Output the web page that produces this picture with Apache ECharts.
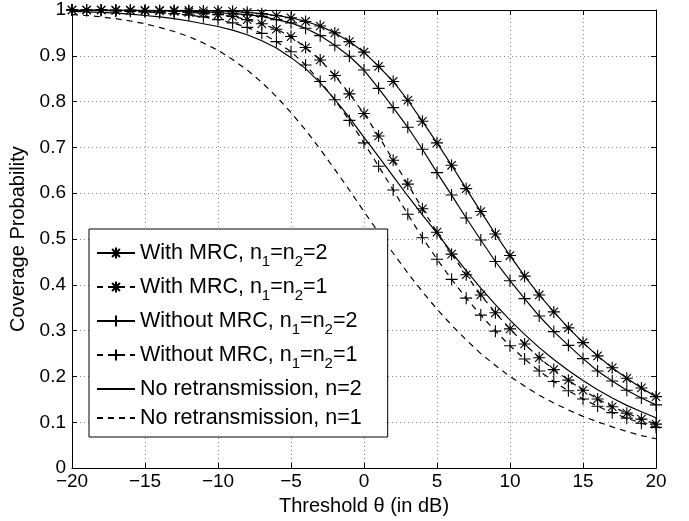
<!DOCTYPE html>
<html>
<head>
<meta charset="utf-8">
<script src="https://cdn.jsdelivr.net/npm/echarts@6/dist/echarts.min.js"></script>
<style>
  html, body { margin: 0; padding: 0; background: #fff; }
  #main { width: 689px; height: 521px; }
</style>
</head>
<body>
<div id="main"></div>
<script>
var thresholdDb = [-20, -19, -18, -17, -16, -15, -14, -13, -12, -11,
  -10, -9, -8, -7, -6, -5, -4, -3, -2, -1,
  0, 1, 2, 3, 4, 5, 6, 7, 8, 9, 10,
  11, 12, 13, 14, 15, 16, 17, 18, 19, 20];

// With MRC, n1=n2=2
var withMrc2 = [1.000, 1.000, 1.000, 1.000, 1.000, 0.999, 0.999, 0.999, 0.999, 0.998,
  0.998, 0.997, 0.995, 0.992, 0.988, 0.983, 0.975, 0.965, 0.950, 0.931,
  0.908, 0.877, 0.844, 0.803, 0.757, 0.710, 0.661, 0.610, 0.560, 0.511, 0.464,
  0.419, 0.378, 0.341, 0.306, 0.274, 0.245, 0.219, 0.196, 0.175, 0.156];

// With MRC, n1=n2=1
var withMrc1 = [1.000, 1.000, 1.000, 0.999, 0.999, 0.998, 0.998, 0.997, 0.995, 0.993,
  0.990, 0.986, 0.979, 0.970, 0.958, 0.942, 0.918, 0.891, 0.857, 0.817,
  0.774, 0.725, 0.672, 0.620, 0.566, 0.515, 0.467, 0.422, 0.378, 0.339, 0.304,
  0.271, 0.241, 0.215, 0.192, 0.170, 0.151, 0.134, 0.120, 0.107, 0.096];

// Without MRC, n1=n2=2
var withoutMrc2 = [1.000, 1.000, 1.000, 0.999, 0.999, 0.999, 0.998, 0.998, 0.997, 0.996,
  0.994, 0.992, 0.990, 0.986, 0.979, 0.972, 0.960, 0.944, 0.923, 0.899,
  0.869, 0.829, 0.787, 0.744, 0.696, 0.645, 0.596, 0.546, 0.498, 0.451, 0.409,
  0.370, 0.332, 0.298, 0.268, 0.239, 0.212, 0.190, 0.170, 0.153, 0.138];

// Without MRC, n1=n2=1
var withoutMrc1 = [1.000, 0.999, 0.999, 0.998, 0.997, 0.996, 0.994, 0.992, 0.989, 0.985,
  0.979, 0.972, 0.962, 0.949, 0.931, 0.909, 0.880, 0.844, 0.804, 0.759,
  0.710, 0.659, 0.607, 0.554, 0.503, 0.456, 0.412, 0.371, 0.334, 0.299, 0.267,
  0.238, 0.212, 0.189, 0.169, 0.151, 0.135, 0.121, 0.109, 0.098, 0.089];

// No retransmission, n=2
var noRetx2 = [0.997, 0.996, 0.995, 0.993, 0.991, 0.988, 0.985, 0.981, 0.976, 0.970,
  0.964, 0.956, 0.946, 0.933, 0.917, 0.896, 0.872, 0.841, 0.805, 0.765,
  0.722, 0.680, 0.637, 0.594, 0.553, 0.513, 0.471, 0.431, 0.393, 0.357, 0.323,
  0.292, 0.263, 0.237, 0.213, 0.191, 0.171, 0.153, 0.137, 0.123, 0.110];

// No retransmission, n=1
var noRetx1 = [0.990, 0.988, 0.985, 0.981, 0.976, 0.970, 0.962, 0.953, 0.942, 0.928,
  0.912, 0.892, 0.869, 0.842, 0.811, 0.776, 0.738, 0.696, 0.652, 0.607,
  0.560, 0.514, 0.469, 0.426, 0.385, 0.347, 0.312, 0.280, 0.250, 0.224, 0.200,
  0.179, 0.159, 0.142, 0.127, 0.113, 0.101, 0.090, 0.080, 0.071, 0.064];

var legendNames = ['With MRC, n1=n2=2', 'With MRC, n1=n2=1', 'Without MRC, n1=n2=2',
  'Without MRC, n1=n2=1', 'No retransmission, n=2', 'No retransmission, n=1'];

var FONT = 'Liberation Sans, Helvetica, Arial, sans-serif';
var STAR = 'path://M6,0L6,12M0,6L12,6M1.8,1.8L10.2,10.2M10.2,1.8L1.8,10.2';
var PLUS = 'path://M6,0L6,12M0,6L12,6';

function pairs(ys) {
  return thresholdDb.map(function (x, i) { return [x, ys[i]]; });
}

function makeSeries(name, ys, symbol, dashed) {
  return {
    name: name,
    type: 'line',
    data: pairs(ys),
    symbol: symbol || 'none',
    symbolSize: 12,
    showSymbol: !!symbol,
    color: '#000',
    lineStyle: { color: '#000', width: 1.2, type: dashed ? [6, 5] : 'solid' },
    itemStyle: { color: '#000', borderColor: '#000', borderWidth: 1.1 },
    emphasis: { disabled: true },
    animation: false
  };
}

var chart = echarts.init(document.getElementById('main'));

var gridLine = { show: true, lineStyle: { color: '#888', type: [1, 3], width: 1 } };
var tick = { show: true, inside: true, length: 5, lineStyle: { color: '#000' } };

var option = {
  animation: false,
  backgroundColor: '#fff',
  grid: { left: 72, right: 33, top: 10, bottom: 51 },
  xAxis: [{
    type: 'value', min: -20, max: 20, interval: 5,
    name: 'Threshold θ (in dB)', nameLocation: 'middle', nameGap: 25,
    nameTextStyle: { fontFamily: FONT, fontSize: 20, color: '#000' },
    axisLine: { show: true, onZero: false, lineStyle: { color: '#000', width: 1 } },
    axisTick: tick,
    axisLabel: {
      fontFamily: FONT, fontSize: 19, color: '#000', margin: 4,
      formatter: function (v) { return v < 0 ? '\u2212' + Math.abs(v) : String(v); }
    },
    splitLine: gridLine
  }, {
    type: 'value', min: -20, max: 20, interval: 5, position: 'top',
    axisLine: { show: true, onZero: false, lineStyle: { color: '#000', width: 1 } },
    axisTick: tick, axisLabel: { show: false }, splitLine: { show: false }
  }],
  yAxis: [{
    type: 'value', min: 0, max: 1, interval: 0.1,
    name: 'Coverage Probability', nameLocation: 'middle', nameGap: 42,
    nameTextStyle: { fontFamily: FONT, fontSize: 20, color: '#000' },
    axisLine: { show: true, onZero: false, lineStyle: { color: '#000', width: 1 } },
    axisTick: tick,
    axisLabel: { fontFamily: FONT, fontSize: 19, color: '#000', margin: 6 },
    splitLine: gridLine
  }, {
    type: 'value', min: 0, max: 1, interval: 0.1, position: 'right',
    axisLine: { show: true, onZero: false, lineStyle: { color: '#000', width: 1 } },
    axisTick: tick, axisLabel: { show: false }, splitLine: { show: false }
  }],
  legend: {
    orient: 'vertical', left: 89, top: 229,
    backgroundColor: '#fff', borderColor: '#000', borderWidth: 1, borderRadius: 0,
    padding: [13, 26, 8, 7], itemGap: 7, itemWidth: 38, itemHeight: 14,
    selectedMode: false,
    textStyle: {
      fontFamily: FONT, fontSize: 21.5, color: '#000',
      rich: { s: { fontFamily: FONT, fontSize: 15, color: '#000', padding: [17, 0, 0, 0] } }
    },
    formatter: function (name) {
      return name.replace('n1', 'n{s|1}').replace('n2=', 'n{s|2}=');
    },
    data: legendNames.map(function (n, i) {
      return i < 4 ? { name: n } : { name: n, itemStyle: { opacity: 0 } };
    })
  },
  series: [
    makeSeries(legendNames[0], withMrc2, STAR, false),
    makeSeries(legendNames[1], withMrc1, STAR, true),
    makeSeries(legendNames[2], withoutMrc2, PLUS, false),
    makeSeries(legendNames[3], withoutMrc1, PLUS, true),
    makeSeries(legendNames[4], noRetx2, null, false),
    makeSeries(legendNames[5], noRetx1, null, true)
  ]
};

chart.setOption(option);
</script>
</body>
</html>
